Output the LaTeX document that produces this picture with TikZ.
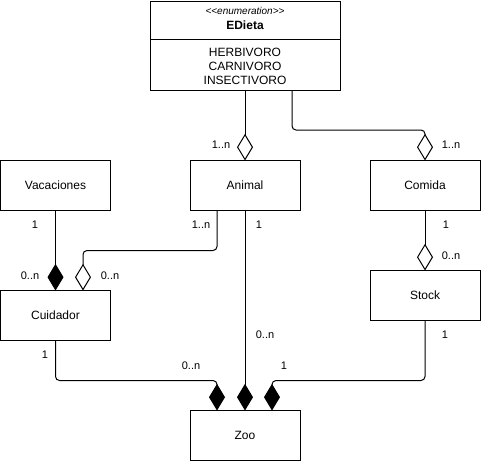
\documentclass[tikz,border=0pt]{standalone}
\usepackage{fontspec}
\setmainfont{Liberation Sans}
\usetikzlibrary{arrows.meta,calc}
\begin{document}
\begin{tikzpicture}[x=0.75pt,y=-0.75pt, line width=0.75pt,
 box/.style={draw, rectangle, minimum width=82.5pt, minimum height=37.5pt, inner sep=0pt, outer sep=0pt, font=\fontsize{9}{10}\selectfont},
 lbl/.style={font=\fontsize{8.25}{9}\selectfont, inner sep=0pt},
 comp/.style={-{Diamond[length=20pt,width=12pt]}},
 aggr/.style={-{Diamond[open,length=20pt,width=12pt]}},
 conn/.style={rounded corners=3pt}]
\useasboundingbox (0,0) rectangle (481,461);
% classes
\node[box] (vacaciones) at (55.5,185.5) {Vacaciones};
\node[box] (animal) at (245,185.5) {Animal};
\node[box] (comida) at (425,185.5) {Comida};
\node[box] (cuidador) at (55.5,315.5) {Cuidador};
\node[box] (stock) at (425,295.5) {Stock};
\node[box] (zoo) at (245,435.5) {Zoo};
% enumeration
\node[draw, rectangle, minimum width=142.5pt, minimum height=66.75pt, inner sep=0pt, outer sep=0pt] (edieta) at (245,45.5) {};
\node[font=\fontsize{7.5}{9}\selectfont\itshape, inner sep=0pt] (stereo) at (245,11) {<{}<enumeration>{}>};
\node[font=\fontsize{9}{10}\selectfont\bfseries, inner sep=0pt] (ename) at (245,25) {EDieta};
\draw ($(edieta.north west)+(0,38.5)$) -- ($(edieta.north east)+(0,38.5)$);
\node[font=\fontsize{9}{10.5}\selectfont, align=center, inner sep=0pt] (lits) at (245,66.5) {HERBIVORO\\CARNIVORO\\INSECTIVORO};
% connectors
\draw[aggr] (edieta.south) -- (animal.north);
\draw[aggr, conn] ($(edieta.south)+(47,0)$) -- ++(0,40) -| (comida.north);
\draw[aggr] (comida.south) -- (stock.north);
\draw[comp] (vacaciones.south) -- (cuidador.north);
\draw[aggr, conn] ($(animal.south)+(-28,0)$) -- ++(0,40) -| ($(cuidador.north)+(27.5,0)$);
\draw[comp, conn] (cuidador.south) -- ++(0,40) -| ($(zoo.north)+(-28,0)$);
\draw[comp] (animal.south) -- (zoo.north);
\draw[comp, conn] (stock.south) -- ++(0,60) -| ($(zoo.north)+(27,0)$);
% multiplicities
\node[lbl] (m1) at (221,145) {1..n};
\node[lbl] (m2) at (451,145) {1..n};
\node[lbl] (m3) at (201,225) {1..n};
\node[lbl] (m4) at (259,225) {1};
\node[lbl] (m5) at (446,225) {1};
\node[lbl] (m6) at (451,255.5) {0..n};
\node[lbl] (m7) at (35,225) {1};
\node[lbl] (m8) at (30,276) {0..n};
\node[lbl] (m9) at (110,276) {0..n};
\node[lbl] (m10) at (45,355) {1};
\node[lbl] (m11) at (191,365.5) {0..n};
\node[lbl] (m12) at (265,335) {0..n};
\node[lbl] (m13) at (284,365.5) {1};
\node[lbl] (m14) at (445,335) {1};
\end{tikzpicture}
\end{document}
